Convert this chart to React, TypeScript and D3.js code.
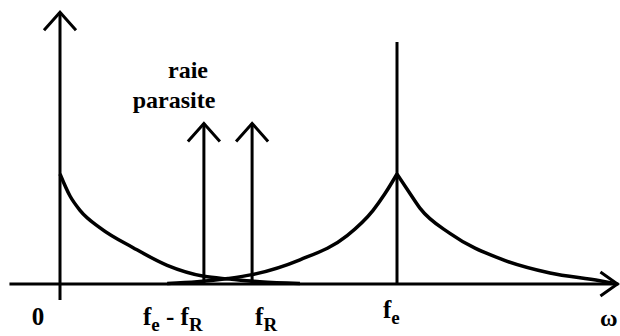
import React from "react";
import * as d3 from "d3";

const W = 620;
const H = 336;

// Frequency in units of the sampling frequency fe, amplitude relative to the peaks.
const baseLobeOmega = [0, 0.0297, 0.0593, 0.119, 0.217, 0.318, 0.427, 0.504, 0.593, 0.712];
const baseLobeAmp = [1.0, 0.8, 0.67, 0.51, 0.33, 0.17, 0.07, 0.045, 0.02, 0.005];

const feRiseOmega = [0.318, 0.407, 0.499, 0.57, 0.712, 0.852, 0.929, 0.964, 1.0];
const feRiseAmp = [0.005, 0.02, 0.05, 0.085, 0.22, 0.44, 0.67, 0.82, 1.0];

const feFallOmega = [1.0, 1.039, 1.068, 1.157, 1.306, 1.454, 1.602, 1.64];
const feFallAmp = [1.0, 0.82, 0.69, 0.46, 0.23, 0.1, 0.03, 0.008];

// Spectral lines: the parasitic line at fe - fR, the line at fR, and the sampling line fe.
const lineOmega = [0.427, 0.57, 1.0];
const lineHeight = [1.46, 1.46, 2.2];
const lineArrow = [true, true, false];

const axisOmegaMin = -0.15;
const axisOmegaMax = 1.66;
const axisAmpMin = -0.145;
const axisAmpMax = 2.47;

const x = d3.scaleLinear().domain([0, 1]).range([60, 397]);
const y = d3.scaleLinear().domain([0, 1]).range([284, 174]);

const zip = (xs: number[], ys: number[]) => xs.map((v, i) => [v, ys[i]] as [number, number]);

const curve = d3
  .line<[number, number]>()
  .x((d) => x(d[0]))
  .y((d) => y(d[1]))
  .curve(d3.curveMonotoneX);

function Chevron({ tx, ty, dir }: { tx: number; ty: number; dir: "up" | "right" }) {
  const p =
    dir === "up"
      ? `M${tx - 16},${ty + 18}L${tx},${ty}L${tx + 16},${ty + 18}`
      : `M${tx - 17},${ty - 12}L${tx},${ty}L${tx - 17},${ty + 12}`;
  return <path d={p} fill="none" stroke="#000" strokeWidth={3} strokeLinejoin="miter" />;
}

export default function App() {
  const y0 = y(0);
  const stroke = "#000";
  const serif: React.CSSProperties = {
    fontFamily: '"Liberation Serif", "Times New Roman", serif',
    fontWeight: 700,
  };
  return (
    <svg
      width={W}
      height={H}
      viewBox={`0 0 ${W} ${H}`}
      style={{ position: "absolute", left: 0, top: 0, background: "#fff" }}
    >
      {/* axes */}
      <line x1={x(axisOmegaMin)} x2={x(axisOmegaMax) - 1} y1={y0} y2={y0} stroke={stroke} strokeWidth={3} />
      <Chevron tx={x(axisOmegaMax) - 2} ty={y0} dir="right" />
      <line x1={x(0)} x2={x(0)} y1={y(axisAmpMin)} y2={y(axisAmpMax)} stroke={stroke} strokeWidth={3} />
      <Chevron tx={x(0)} ty={y(axisAmpMax)} dir="up" />

      {/* spectrum lobes */}
      <path d={curve(zip(baseLobeOmega, baseLobeAmp)) || ""} fill="none" stroke={stroke} strokeWidth={3.5} />
      <path d={curve(zip(feRiseOmega, feRiseAmp)) || ""} fill="none" stroke={stroke} strokeWidth={3.5} />
      <path d={curve(zip(feFallOmega, feFallAmp)) || ""} fill="none" stroke={stroke} strokeWidth={3.5} />

      {/* spectral lines */}
      {lineOmega.map((w, i) => (
        <g key={i}>
          <line x1={x(w)} x2={x(w)} y1={y0} y2={y(lineHeight[i])} stroke={stroke} strokeWidth={3} />
          {lineArrow[i] && <Chevron tx={x(w)} ty={y(lineHeight[i])} dir="up" />}
        </g>
      ))}

      <g fill="#000" style={serif}>
        {/* annotation */}
        <text x={188} y={78} textAnchor="middle" fontSize={24}>
          raie
        </text>
        <text x={174} y={108} textAnchor="middle" fontSize={24}>
          parasite
        </text>

        {/* axis labels */}
        <text x={x(0) - 22} y={325} textAnchor="middle" fontSize={25}>
          0
        </text>
        <text x={143} y={325} fontSize={25}>
          f
          <tspan fontSize={19} dy={6}>e</tspan>
          <tspan dy={-6}> - f</tspan>
          <tspan fontSize={19} dy={6}>R</tspan>
        </text>
        <text x={x(0.57) + 3} y={325} fontSize={25}>
          f
          <tspan fontSize={19} dy={6}>R</tspan>
        </text>
        <text x={x(1) - 14} y={318} fontSize={25}>
          f
          <tspan fontSize={19} dy={6}>e</tspan>
        </text>
        <text x={600} y={326} fontSize={24}>
          ω
        </text>
      </g>
    </svg>
  );
}
